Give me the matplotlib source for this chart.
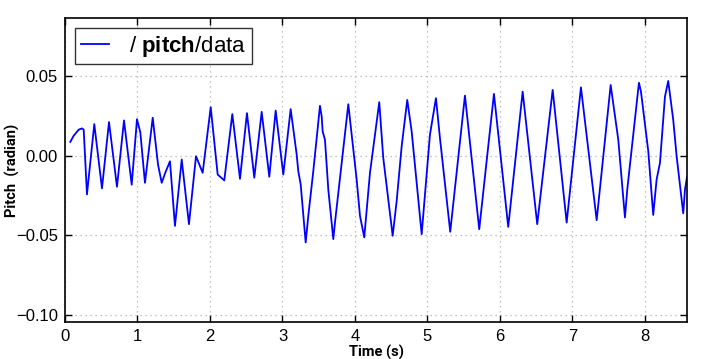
import matplotlib
matplotlib.use("Agg")
import matplotlib.pyplot as plt
from matplotlib import font_manager

# ---- data ----
time_s = [0.073, 0.120, 0.189, 0.234, 0.258, 0.303, 0.404, 0.510, 0.607, 0.717,
          0.814, 0.920, 0.993, 1.039, 1.103, 1.210, 1.283, 1.334, 1.383, 1.448,
          1.517, 1.610, 1.710, 1.807, 1.899, 2.010, 2.106, 2.197, 2.308, 2.414,
          2.510, 2.611, 2.713, 2.818, 2.906, 3.011, 3.113, 3.196, 3.218, 3.251,
          3.320, 3.356, 3.425, 3.472, 3.517, 3.541, 3.554, 3.586, 3.632, 3.701,
          3.724, 3.908, 4.023, 4.069, 4.128, 4.207, 4.335, 4.390, 4.520, 4.575,
          4.644, 4.721, 4.782, 4.920, 5.034, 5.117, 5.172, 5.314, 5.517, 5.714,
          5.917, 6.114, 6.313, 6.514, 6.727, 6.920, 7.117, 7.334, 7.527, 7.632,
          7.724, 7.756, 7.917, 7.945, 8.046, 8.114, 8.161, 8.207, 8.276, 8.321,
          8.390, 8.437, 8.528, 8.552, 8.579]
pitch = [0.0086, 0.0125, 0.0163, 0.0171, 0.0163, -0.0244, 0.0198, -0.0206, 0.0211, -0.0196,
         0.0221, -0.0183, 0.0229, 0.0146, -0.0171, 0.0238, -0.0056, -0.0171, -0.0108, -0.0036,
         -0.0442, -0.0025, -0.0431, -0.0004, -0.0108, 0.0304, -0.0119, -0.0156, 0.0261, -0.0146,
         0.0267, -0.0139, 0.0275, -0.0133, 0.0283, -0.0119, 0.0292, 0.0006, -0.0098, -0.0181,
         -0.0546, -0.0379, -0.0098, 0.0111, 0.0313, 0.0246, 0.0152, 0.0100, -0.0213, -0.0525,
         -0.0421, 0.0323, -0.0150, -0.0379, -0.0514, -0.0108, 0.0336, -0.0014, -0.0504, -0.0286,
         0.0058, 0.0350, 0.0152, -0.0494, 0.0131, 0.0361, 0.0111, -0.0479, 0.0377, -0.0463,
         0.0388, -0.0448, 0.0402, -0.0431, 0.0413, -0.0421, 0.0429, -0.0406, 0.0444, 0.0100,
         -0.0389, -0.0213, 0.0458, 0.0402, 0.0027, -0.0373, -0.0150, -0.0046, 0.0371, 0.0469,
         0.0225, -0.0004, -0.0363, -0.0213, -0.0138]
x_ticks = [0, 1, 2, 3, 4, 5, 6, 7, 8]
y_ticks = [-0.10, -0.05, 0.00, 0.05]
y_tick_labels = ['\u22120.10', '\u22120.05', '0.00', '0.05']
x_label = 'Time (s)'
y_label = 'Pitch  (radian)'

plt.rcParams['font.family'] = ['Liberation Sans', 'DejaVu Sans']
plt.rcParams['mathtext.fontset'] = 'custom'
plt.rcParams['mathtext.bf'] = 'Liberation Sans:bold'
plt.rcParams['mathtext.rm'] = 'Liberation Sans'
series_label = r'/ $\mathbf{pitch}$/data'

label_prop = font_manager.FontProperties(family=['Roboto', 'DejaVu Sans'],
                                         weight='bold', size=10.5)

fig = plt.figure(figsize=(7.05, 3.59), dpi=100)
ax = fig.add_axes([65 / 705, 1 - 321.7 / 359, (687 - 65) / 705, (321.7 - 18.3) / 359])

ax.plot(time_s, pitch, color='#0000ff', linewidth=1.3, label=series_label)

ax.set_xlim(0, 8.58)
ax.set_ylim(-0.1044, 0.0863)
ax.set_xticks(x_ticks)
ax.set_yticks(y_ticks)
ax.set_yticklabels(y_tick_labels)
ax.tick_params(direction='in', top=True, right=True, length=5, width=1,
               labelsize=12, pad=5, colors='black')
for s in ax.spines.values():
    s.set_linewidth(1.2)
    s.set_color('black')
ax.grid(True, color='#b0b0b0', linestyle=(0, (1, 3)), linewidth=0.9)

ax.set_xlabel(x_label, fontproperties=label_prop)
ax.xaxis.set_label_coords(0.5, -0.078)
ax.set_ylabel(y_label, fontproperties=label_prop)
ax.yaxis.set_label_coords(-0.072, 0.5)

leg = ax.legend(loc='upper left', fontsize=16, frameon=True, fancybox=False,
                handlelength=1.3, handletextpad=0.9, borderpad=0.25,
                bbox_to_anchor=(0.0, 1.0), borderaxespad=0.45)
leg.get_frame().set_edgecolor('black')
leg.get_frame().set_linewidth(1.0)

fig.savefig('out.png', dpi=100)
